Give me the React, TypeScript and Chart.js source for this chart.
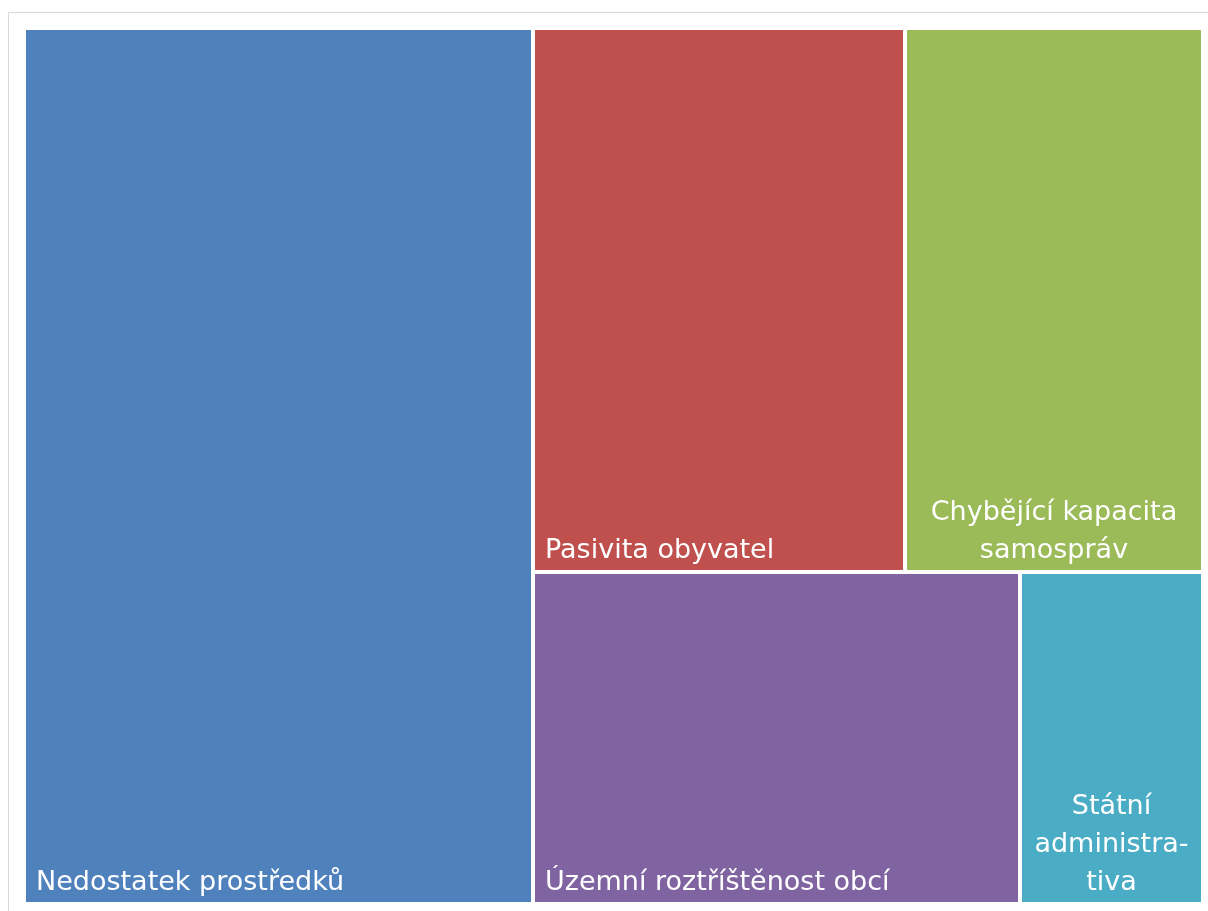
import React, { useEffect, useRef } from "react";
import { Chart, registerables } from "chart.js";

Chart.register(...registerables);

const categories = [
  "Nedostatek prostředků",
  "Pasivita obyvatel",
  "Chybějící kapacita samospráv",
  "Územní roztříštěnost obcí",
  "Státní administrativa",
];
const values = [22, 10, 8, 8, 3];
const labelLines = [
  ["Nedostatek prostředků"],
  ["Pasivita obyvatel"],
  ["Chybějící kapacita", "samospráv"],
  ["Územní roztříštěnost obcí"],
  ["Státní", "administra-", "tiva"],
];
const colors = ["#4F81BD", "#C0504D", "#9BBB59", "#8064A2", "#4BACC6"];

type Rect = { x: number; y: number; w: number; h: number; i: number };

function worst(row: number[], side: number) {
  const s = row.reduce((a, b) => a + b, 0);
  const mx = Math.max(...row);
  const mn = Math.min(...row);
  return Math.max((side * side * mx) / (s * s), (s * s) / (side * side * mn));
}

function squarify(vals: number[], W: number, H: number): Rect[] {
  const total = vals.reduce((a, b) => a + b, 0);
  const areas = vals.map((v) => (v / total) * W * H);
  const out: Rect[] = [];
  let x = 0, y = 0, w = W, h = H;
  let idx = 0;
  while (idx < areas.length) {
    const side = Math.min(w, h);
    let row = [areas[idx]];
    let j = idx + 1;
    while (j < areas.length) {
      const next = [...row, areas[j]];
      if (worst(next, side) <= worst(row, side)) {
        row = next;
        j++;
      } else break;
    }
    const s = row.reduce((a, b) => a + b, 0);
    if (w >= h) {
      const cw = s / h;
      let cy = y;
      row.forEach((a, k) => {
        const ch = a / cw;
        out.push({ x, y: cy, w: cw, h: ch, i: idx + k });
        cy += ch;
      });
      x += cw;
      w -= cw;
    } else {
      const rh = s / w;
      let cx = x;
      row.forEach((a, k) => {
        const rw = a / rh;
        out.push({ x: cx, y, w: rw, h: rh, i: idx + k });
        cx += rw;
      });
      y += rh;
      h -= rh;
    }
    idx = j;
  }
  return out;
}

const FONT_SIZE = 27;
const LINE_H = 38;
const GAP = 2;

const treemapPlugin = {
  id: "treemapPlugin",
  afterDatasetsDraw(chart: any) {
    const { ctx, chartArea, scales } = chart;
    const xs = scales.x;
    const ys = scales.y;
    const aspect = chartArea.width / chartArea.height;
    const rects = squarify(values, aspect, 1);
    ctx.save();
    rects.forEach((r) => {
      const x0 = xs.getPixelForValue(r.x / aspect);
      const x1 = xs.getPixelForValue((r.x + r.w) / aspect);
      const y0 = ys.getPixelForValue(r.y);
      const y1 = ys.getPixelForValue(r.y + r.h);
      const left = Math.round(x0) + GAP;
      const right = Math.round(x1) - GAP;
      const top = Math.round(y0) + GAP;
      const bottom = Math.round(y1) - GAP;
      ctx.fillStyle = colors[r.i];
      ctx.fillRect(left, top, right - left, bottom - top);

      const lines = labelLines[r.i];
      ctx.fillStyle = "#FFFFFF";
      ctx.font = `${FONT_SIZE}px "DejaVu Sans", "Open Sans", sans-serif`;
      ctx.textBaseline = "alphabetic";
      const multi = lines.length > 1;
      ctx.textAlign = multi ? "center" : "left";
      const tx = multi ? (left + right) / 2 : left + 10;
      lines.forEach((ln, k) => {
        const by = bottom - 12 - (lines.length - 1 - k) * LINE_H;
        ctx.fillText(ln, tx, by);
      });
    });
    ctx.restore();
  },
};

export default function App() {
  const ref = useRef<HTMLCanvasElement | null>(null);
  useEffect(() => {
    if (!ref.current) return;
    const chart = new Chart(ref.current, {
      type: "scatter",
      data: {
        labels: categories,
        datasets: [
          {
            label: "Treemap",
            data: values.map((v, i) => ({ x: 0, y: 0, v, c: categories[i] })) as any,
            pointRadius: 0,
            pointHoverRadius: 0,
          },
        ],
      },
      options: {
        responsive: false,
        devicePixelRatio: 1,
        animation: false,
        layout: { padding: { left: 24, top: 28, right: 5, bottom: 7 } },
        plugins: { legend: { display: false }, tooltip: { enabled: false } },
        scales: {
          x: { type: "linear", min: 0, max: 1, display: false },
          y: { type: "linear", min: 0, max: 1, reverse: true, display: false },
        },
      },
      plugins: [treemapPlugin],
    });
    return () => chart.destroy();
  }, []);

  return (
    <div style={{ position: "fixed", inset: 0, background: "#fff", overflow: "hidden" }}>
      <div
        style={{
          position: "absolute",
          left: 8,
          top: 12,
          width: 1400,
          height: 1100,
          borderTop: "1px solid #D9D9D9",
          borderLeft: "1px solid #D9D9D9",
        }}
      />
      <canvas
        ref={ref}
        width={1208}
        height={911}
        style={{ position: "absolute", left: 0, top: 0, width: 1208, height: 911 }}
      />
    </div>
  );
}
